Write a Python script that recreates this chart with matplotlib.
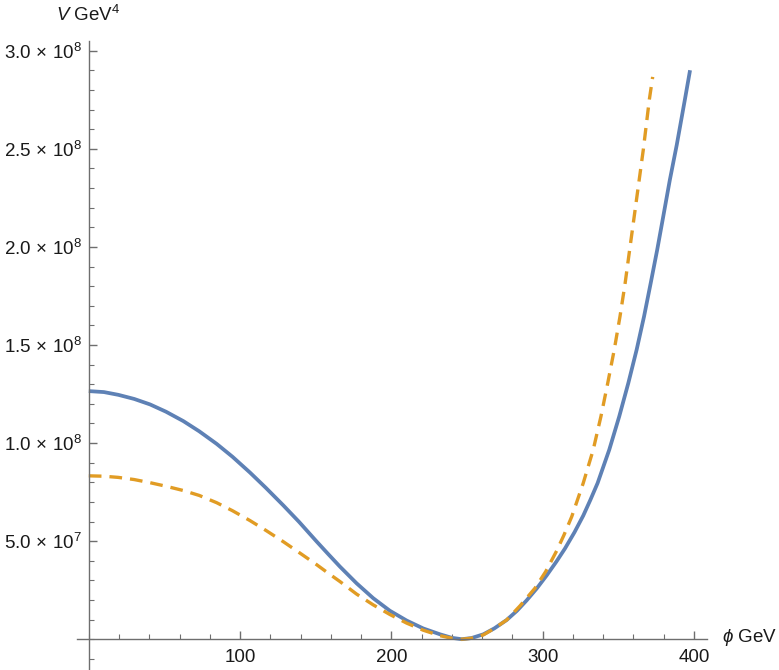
import matplotlib
matplotlib.use("Agg")
import matplotlib.pyplot as plt
from matplotlib.ticker import MultipleLocator, FixedLocator

# data (phi in GeV, V in units of 1e7 GeV^4)
phi_blue = [0, 10, 19.5, 30, 40.5, 51, 62.5, 73, 84.5, 95, 106.5, 117, 128.6,
            139, 150.6, 158, 166, 177, 188, 199, 210.1, 221, 232.1, 240, 246.5,
            253, 260.8, 268, 276.2, 283, 289.4, 296, 302.6, 309, 314.7, 321,
            326.8, 331.5, 336.3, 344, 350.6, 356.6, 362.1, 367, 371.4, 375.7,
            379.7, 384, 388.6, 394, 397.4]
V_blue = [12.65, 12.60, 12.46, 12.25, 11.97, 11.60, 11.12, 10.60, 9.96, 9.30,
          8.50, 7.72, 6.82, 5.98, 4.98, 4.36, 3.70, 2.85, 2.09, 1.45, 0.95, 0.55,
          0.25, 0.07, 0, 0.06, 0.25, 0.55, 0.98, 1.45, 1.98, 2.58, 3.25, 3.95,
          4.62, 5.45, 6.30, 7.10, 7.96, 9.66, 11.36, 13.06, 14.76, 16.46, 18.16,
          19.86, 21.56, 23.4, 25.2, 27.52, 29.01]

phi_orange = [0, 10, 19.5, 30, 40.5, 51, 62.5, 73, 84.5, 95, 106.5, 117, 128.6,
              139, 150.6, 158, 166, 177, 188, 199, 210.1, 221, 232.1, 240, 246.5,
              253, 260.8, 268, 276.2, 285, 294.9, 302, 309.2, 314, 319.2, 326.8,
              333.4, 338.5, 343, 347.3, 351.1, 354.4, 357.2, 360.5, 366.5, 370.5,
              372.7]
V_orange = [8.33, 8.31, 8.25, 8.14, 7.98, 7.80, 7.58, 7.33, 6.96, 6.55, 6.05,
            5.55, 4.97, 4.42, 3.80, 3.38, 2.94, 2.30, 1.75, 1.26, 0.82, 0.46,
            0.18, 0.05, 0, 0.05, 0.22, 0.55, 0.98, 1.70, 2.60, 3.45, 4.50, 5.30,
            6.25, 7.96, 9.66, 11.36, 13.06, 14.76, 16.46, 18.1, 19.7, 21.56,
            24.96, 27.52, 28.67]

y_ticks = [5e7, 1e8, 1.5e8, 2e8, 2.5e8, 3e8]
y_labels = [r"5.0$\,\times\,$10$^{7}$", r"1.0$\,\times\,$10$^{8}$", r"1.5$\,\times\,$10$^{8}$",
            r"2.0$\,\times\,$10$^{8}$", r"2.5$\,\times\,$10$^{8}$", r"3.0$\,\times\,$10$^{8}$"]
x_ticks = [100, 200, 300, 400]

plt.rcParams['font.family'] = ['Liberation Sans', 'DejaVu Sans']
plt.rcParams['mathtext.fontset'] = 'custom'
plt.rcParams['mathtext.rm'] = 'Liberation Sans'
plt.rcParams['mathtext.it'] = 'Liberation Sans:italic'

axis_col = '#6e6e6e'
fig = plt.figure(figsize=(7.79, 6.70), dpi=100)
ax = fig.add_axes([77 / 779, 0, 630 / 779, 629 / 670])

ax.plot(phi_blue, [v * 1e7 for v in V_blue], color='#5e81b5', lw=2.7,
        solid_capstyle='butt', solid_joinstyle='round')
ax.plot(phi_orange, [v * 1e7 for v in V_orange], color='#e19c24', lw=2.4,
        dashes=(3.8, 2.4))

ax.set_xlim(-7.8, 408.6)
ax.set_ylim(-1.57e7, 3.05e8)

for s in ['top', 'right']:
    ax.spines[s].set_visible(False)
ax.spines['left'].set_position(('data', 0))
ax.spines['bottom'].set_position(('data', 0))
for s in ['left', 'bottom']:
    ax.spines[s].set_color(axis_col)
    ax.spines[s].set_linewidth(1.0)

ax.xaxis.set_major_locator(FixedLocator(x_ticks))
ax.xaxis.set_minor_locator(MultipleLocator(20))
ax.yaxis.set_major_locator(FixedLocator(y_ticks))
ax.set_yticklabels(y_labels)
ax.yaxis.set_minor_locator(MultipleLocator(1e7))

ax.tick_params(axis='both', which='both', direction='in', color=axis_col,
               labelsize=13.5, labelcolor='#1a1a1a')
ax.tick_params(axis='both', which='major', length=6, width=1.0)
ax.tick_params(axis='both', which='minor', length=3.5, width=0.8)
ax.tick_params(axis='x', which='major', pad=7)
ax.tick_params(axis='y', which='major', pad=5)

fig.text(88 / 779, 1 - 15 / 670, r"$V$ GeV$^{4}$", fontsize=13.5, ha='center',
         va='center', color='#1a1a1a')
fig.text(722 / 779, 1 - 638 / 670, r"$\phi$ GeV", fontsize=13.5, ha='left',
         va='center', color='#1a1a1a')

fig.savefig("out.png", dpi=100)
